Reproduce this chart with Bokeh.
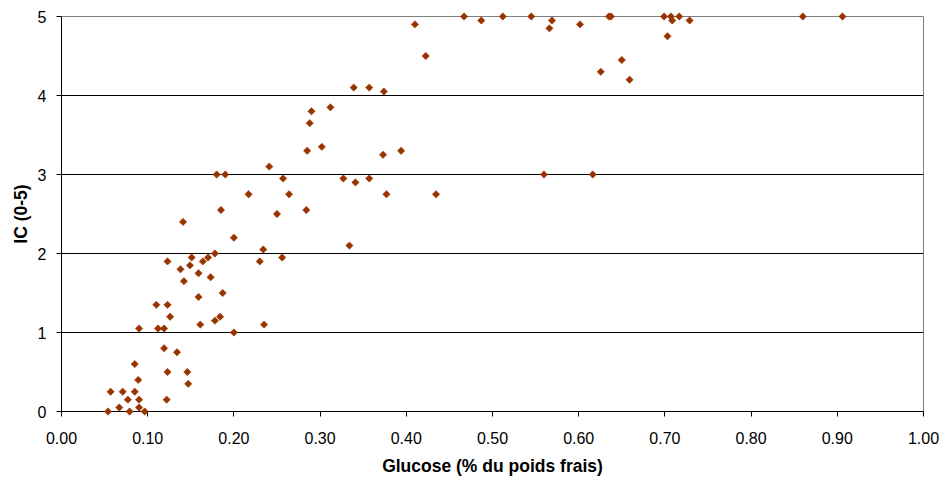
import numpy as np
from bokeh.plotting import figure
from bokeh.models import FixedTicker, NumeralTickFormatter, ColumnDataSource, Range1d
from bokeh.embed import file_html
from bokeh.resources import INLINE

glucose = [0.054, 0.057, 0.067, 0.071, 0.077, 0.079, 0.085, 0.085, 0.089, 0.090,
           0.090, 0.0965, 0.090, 0.110, 0.112, 0.119, 0.119, 0.123, 0.123, 0.122,
           0.126, 0.123, 0.134, 0.138, 0.141, 0.142, 0.146, 0.147, 0.149, 0.151,
           0.159, 0.159, 0.161, 0.164, 0.170, 0.173, 0.178, 0.178, 0.184, 0.187,
           0.185, 0.200, 0.200, 0.180, 0.190, 0.217, 0.241, 0.257, 0.264, 0.285,
           0.290, 0.288, 0.302, 0.312, 0.327, 0.341, 0.339, 0.357, 0.374, 0.373,
           0.394, 0.357, 0.377, 0.4345, 0.250, 0.284, 0.334, 0.234, 0.230, 0.256,
           0.235, 0.410, 0.4225, 0.467, 0.487, 0.512, 0.545, 0.569, 0.566, 0.6015,
           0.635, 0.6375, 0.6256, 0.650, 0.659, 0.699, 0.707, 0.7085, 0.7166, 0.7287,
           0.703, 0.5597, 0.6163, 0.860, 0.906]
ic = [0, 0.25, 0.05, 0.25, 0.15, 0, 0.25, 0.6, 0.4, 0.15,
      0.05, 0, 1.05, 1.35, 1.05, 1.05, 0.8, 1.35, 0.5, 0.15,
      1.2, 1.9, 0.75, 1.8, 2.4, 1.65, 0.5, 0.35, 1.85, 1.95,
      1.75, 1.45, 1.1, 1.9, 1.95, 1.7, 2.0, 1.15, 1.2, 1.5,
      2.55, 2.2, 1.0, 3.0, 3.0, 2.75, 3.1, 2.95, 2.75, 3.3,
      3.8, 3.65, 3.35, 3.85, 2.95, 2.9, 4.1, 4.1, 4.05, 3.25,
      3.3, 2.95, 2.75, 2.75, 2.5, 2.55, 2.1, 2.05, 1.9, 1.95,
      1.1, 4.9, 4.5, 5.0, 4.95, 5.0, 5.0, 4.95, 4.85, 4.9,
      5.0, 5.0, 4.3, 4.45, 4.2, 5.0, 5.0, 4.95, 5.0, 4.95,
      4.75, 3.0, 3.0, 5.0, 5.0]

x_ticks = [0.0, 0.1, 0.2, 0.3, 0.4, 0.5, 0.6, 0.7, 0.8, 0.9, 1.0]
y_ticks = [0, 1, 2, 3, 4, 5]

src = ColumnDataSource(dict(x=glucose, y=ic))

p = figure(width=946, height=482, output_backend="svg", toolbar_location=None,
           x_range=Range1d(0, 1), y_range=Range1d(0, 5),
           min_border_left=61, min_border_right=23, min_border_top=16, min_border_bottom=71)
p.background_fill_color = "white"
p.border_fill_color = "white"
p.outline_line_color = "#808080"
p.outline_line_width = 1

r = p.scatter("x", "y", source=src, marker="square", angle=np.pi / 4, size=5.2,
              fill_color="#993300", line_color="#993300", line_width=0.5)
r.level = "overlay"

p.xgrid.visible = False
p.ygrid.ticker = FixedTicker(ticks=y_ticks)
p.ygrid.grid_line_color = "#000000"
p.ygrid.grid_line_width = 1

for ax in (p.xaxis[0], p.yaxis[0]):
    ax.axis_line_color = "#000000"
    ax.major_tick_line_color = "#000000"
    ax.major_tick_out = 5
    ax.major_tick_in = 0
    ax.minor_tick_line_color = None
    ax.major_label_text_font = "Liberation Sans"
    ax.major_label_text_font_size = "16px"
    ax.major_label_text_color = "#000000"
    ax.axis_label_text_font = "Liberation Sans"
    ax.axis_label_text_font_size = "17.5px"
    ax.axis_label_text_font_style = "bold"
    ax.axis_label_text_color = "#000000"

p.xaxis[0].ticker = FixedTicker(ticks=x_ticks)
p.xaxis[0].formatter = NumeralTickFormatter(format="0.00")
p.xaxis[0].axis_label = "Glucose (% du poids frais)"
p.xaxis[0].major_label_standoff = 15
p.xaxis[0].axis_label_standoff = 9

p.yaxis[0].ticker = FixedTicker(ticks=y_ticks)
p.yaxis[0].formatter = NumeralTickFormatter(format="0")
p.yaxis[0].axis_label = "IC (0-5)"
p.yaxis[0].major_label_standoff = 10
p.yaxis[0].axis_label_standoff = 4

open("out.html", "w").write(file_html(p, INLINE))
